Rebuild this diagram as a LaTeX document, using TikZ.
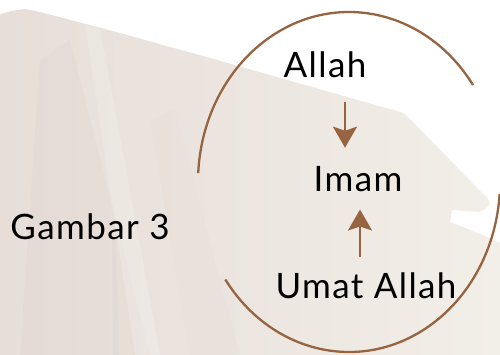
\documentclass[tikz,border=0pt]{standalone}
\usepackage{fontspec}
\setmainfont{Lato}[LetterSpace=4]
\usetikzlibrary{arrows.meta}
\definecolor{brownc}{RGB}{150,100,64}
\definecolor{paperL}{RGB}{231,222,216}
\definecolor{paperR}{RGB}{242,238,232}
\definecolor{streak}{RGB}{210,196,194}
\definecolor{streakB}{RGB}{205,205,215}
\tikzset{
  label/.style={anchor=base, inner sep=0pt, font=\fontsize{35}{40}\selectfont, text=black},
  ring/.style={draw=brownc, line width=2.3pt},
  flow/.style={draw=brownc, line width=2.4pt, -{Stealth[length=21pt,width=24pt,inset=4pt]}}
}
\begin{document}
\begin{tikzpicture}[x=1pt,y=-1pt]
\useasboundingbox (0,0) rectangle (500,355);
\fill[white] (0,0) rectangle (500,355);
% paper background
\path[left color=paperL, right color=paperR]
  (0,14) -- (12,11) -- (25,9) -- (40,12) -- (120,33) -- (217,60) -- (400,112) -- (406,115)
  -- (488,199) -- (490,204) -- (485,209) -- (480,212) -- (452,210) -- (450,222)
  -- (490,238) -- (500,243) -- (500,355) -- (0,355) -- cycle;
\begin{scope}
  \clip (0,14) -- (12,11) -- (25,9) -- (40,12) -- (120,33) -- (217,60) -- (400,112) -- (406,115)
  -- (488,199) -- (490,204) -- (485,209) -- (480,212) -- (452,210) -- (450,222)
  -- (490,238) -- (500,243) -- (500,355) -- (0,355) -- cycle;
  \fill[streak, opacity=0.12] (40,60) -- (70,40) -- (150,355) -- (20,355) -- cycle;
  \fill[white, opacity=0.18] (85,25) -- (100,28) -- (160,355) -- (135,355) -- cycle;
  \fill[streakB, opacity=0.2] (112,240) -- (116,240) -- (119,355) -- (113,355) -- cycle;
  \fill[streak, opacity=0.08] (150,120) -- (175,110) -- (240,355) -- (190,355) -- cycle;
\end{scope}
% ring
\coordinate (c) at (349,182);
\draw[ring] (473.0,85.0) arc[start angle=34.8, end angle=177, x radius=151pt, y radius=170pt];
\draw[ring] (225.3,279.5) arc[start angle=215, end angle=356, x radius=151pt, y radius=170pt];
% labels
\node[label] (allah) at (325,78) {Allah};
\node[label] (imam) at (358,192) {Imam};
\node[label] (umat) at (366,298) {Umat Allah};
\node[label] (gambar) at (90,240) {Gambar 3};
% arrows
\draw[flow] ([xshift=20pt,yshift=-24pt]allah.south) -- ([xshift=-13pt,yshift=19pt]imam.north);
\draw[flow] ([xshift=-6pt,yshift=15pt]umat.north) -- ([xshift=2pt,yshift=-17pt]imam.south);
\end{tikzpicture}
\end{document}
